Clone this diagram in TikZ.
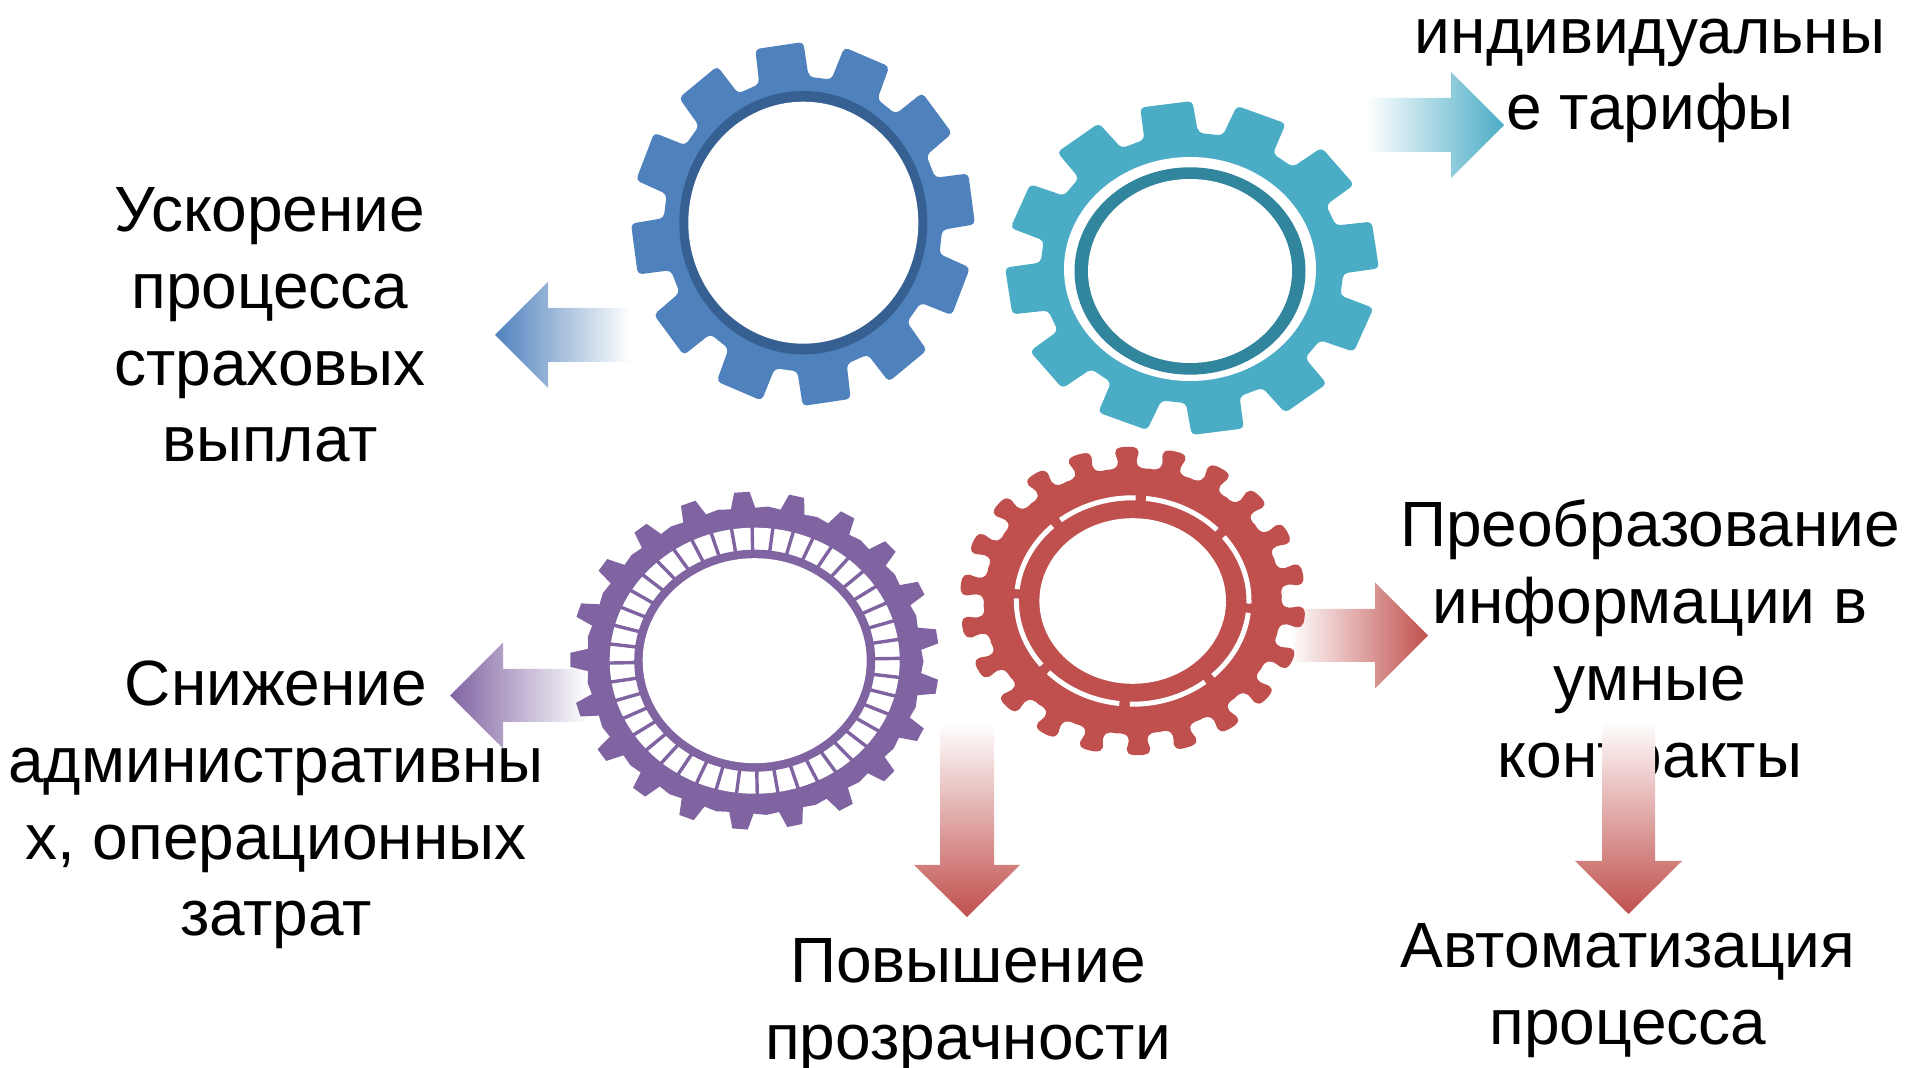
\documentclass[tikz,border=0pt]{standalone}
\usepackage{fontspec}
\setmainfont{Liberation Sans}
\definecolor{gblue}{HTML}{4F81BD}
\definecolor{gblued}{HTML}{366092}
\definecolor{gteal}{HTML}{4BACC6}
\definecolor{gteald}{HTML}{31859C}
\definecolor{gred}{HTML}{C0504D}
\definecolor{gpur}{HTML}{8064A2}
\tikzset{
 lbl/.style={align=center,inner sep=0pt,font=\fontsize{32}{38.4}\selectfont,text=black},
}
% gear with square rounded teeth: centre, rx, ry, colour, phase
\newcommand{\bluntgear}[6]{%
 \begin{scope}[shift={(#1,#2)},x=#3*0.5pt,y=#4*0.5pt]
 \fill[#5,rounded corners=2.2pt] ({#6-10.3}:.81)
  foreach \k [evaluate=\k as \a using #6+\k*30] in {0,...,11}
   { -- ({\a-10.3}:.81) -- ({\a-8.1}:1) -- ({\a+8.1}:1) -- ({\a+10.3}:.81) } -- cycle;
 \end{scope}}
\begin{document}
\begin{tikzpicture}[x=0.5pt,y=-0.5pt]
\useasboundingbox (0,0) rectangle (1907,1068);
% labels
\node[lbl] (tspeed) at (270,325) {Ускорение\\процесса\\страховых\\выплат};
\node[lbl] (ttariff) at (1650,81) {индивидуальны\\е тарифы};
\node[lbl] (tcost) at (276,805) {Снижение\\административны\\х, операционных\\затрат};
\node[lbl] (tsmart) at (1650,645) {Преобразование\\информации в\\умные\\контракты};
\node[lbl] (ttrans) at (968,1006) {Повышение\\прозрачности};
\node[lbl] (tauto) at (1628,991) {Автоматизация\\процесса};
% arrows
\shade[left color=gblue,right color=white] (495,335) -- (548,282) -- (548,308) -- (630,308) -- (630,362) -- (548,362) -- (548,388) -- cycle;
\shade[left color=white,right color=gteal] (1504,125) -- (1451,72) -- (1451,98) -- (1367,98) -- (1367,152) -- (1451,152) -- (1451,178) -- cycle;
\shade[left color=white,right color=gred] (1428,635.5) -- (1375,582.5) -- (1375,609) -- (1290,609) -- (1290,662) -- (1375,662) -- (1375,688.5) -- cycle;
\shade[left color=gpur,right color=white] (450,695.5) -- (503,642.5) -- (503,669) -- (588,669) -- (588,722) -- (503,722) -- (503,748.5) -- cycle;
\shade[top color=white,bottom color=gred] (967,917) -- (914,865) -- (940,865) -- (940,723) -- (994,723) -- (994,865) -- (1020,865) -- cycle;
\shade[top color=white,bottom color=gred] (1628.5,914) -- (1575,861) -- (1602,861) -- (1602,720) -- (1655,720) -- (1655,861) -- (1682,861) -- cycle;
% blue gear
\bluntgear{803}{224}{172}{182}{gblue}{98}
\fill[gblued] (803.3,222.7) ellipse [x radius=124,y radius=131.7];
\fill[white] (803.3,222.7) ellipse [x radius=115,y radius=121];
% teal gear
\bluntgear{1192}{268}{187}{167}{gteal}{98}
\fill[white] (1190,269) ellipse [x radius=126,y radius=112];
\fill[gteald] (1190,271) ellipse [x radius=115.5,y radius=103.7];
\fill[white] (1190,271) ellipse [x radius=102,y radius=92];
% purple gear
\begin{scope}[shift={(754.7,660.7)},x=184.5*0.5pt,y=169*0.5pt]
\fill[gpur] ({94-4}:.905) foreach \k [evaluate=\k as \a using 94+\k*360/21] in {0,...,20}
  { -- ({\a-4.2}:.905) -- ({\a-2.4}:1) -- ({\a+2.4}:1) -- ({\a+4.2}:.905)
    -- ({\a+8.57}:.915) } -- cycle;
\end{scope}
\fill[white] (754.7,660.7) ellipse [x radius=145,y radius=133];
\begin{scope}[shift={(754.7,660.7)},x=145*0.5pt,y=133*0.5pt]
\foreach \k in {0,...,43} \draw[gpur,line width=1.7pt] (0,0) -- ({91+\k*360/44}:1.02);
\end{scope}
\fill[gpur] (754.7,660.7) ellipse [x radius=120.5,y radius=111];
\fill[white] (754.7,660.7) ellipse [x radius=112,y radius=102.5];
% red gear
\begin{scope}[shift={(1132.7,601)},x=172.5*0.5pt,y=154*0.5pt]
\fill[gred] ({92-8.18}:.865) foreach \k [evaluate=\k as \a using 92+\k*360/22] in {0,...,21}
  { .. controls ({\a-3.4}:.855) and ({\a-3.0}:.90) .. ({\a-3.7}:.935)
    .. controls ({\a-4.6}:.985) and ({\a-3.6}:1.005) .. ({\a}:1.002)
    .. controls ({\a+3.6}:1.005) and ({\a+4.6}:.985) .. ({\a+3.7}:.935)
    .. controls ({\a+3.0}:.90) and ({\a+3.4}:.855) .. ({\a+8.18}:.865) } -- cycle;
\end{scope}
\fill[white] (1132.7,601) ellipse [x radius=93.3,y radius=82.8];
\begin{scope}[shift={(1132.7,601)},x=116.3*0.5pt,y=103.2*0.5pt]
\foreach \k in {0,...,7}
 \draw[white,line width=2.5pt,domain={41+\k*45+2.6}:{86+\k*45-2.6},samples=30,variable=\t] plot ({cos(\t)},{sin(\t)});
\end{scope}
\end{tikzpicture}
\end{document}
